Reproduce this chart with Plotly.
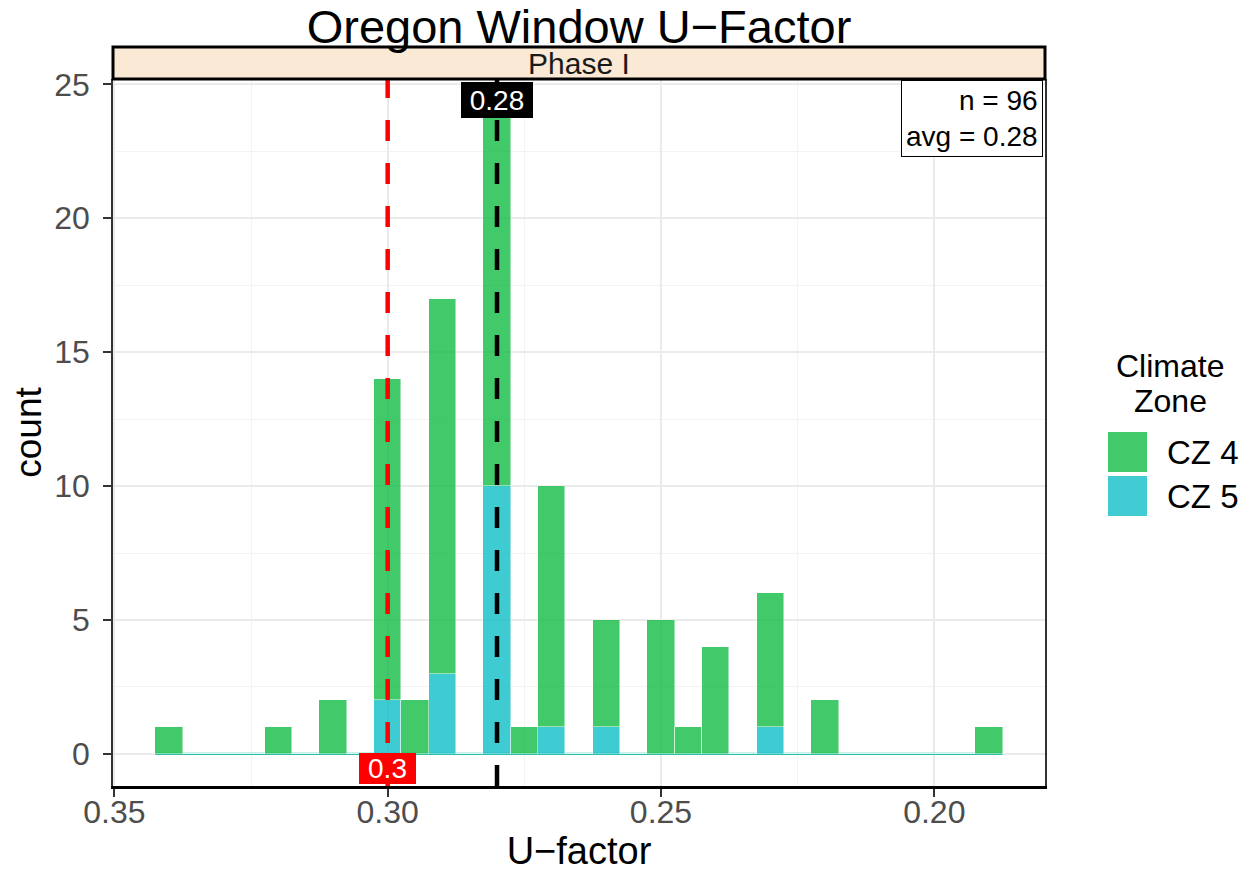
import plotly.graph_objects as go

bins = [0.340, 0.335, 0.330, 0.325, 0.320, 0.315, 0.310, 0.305, 0.300, 0.295,
        0.290, 0.285, 0.280, 0.275, 0.270, 0.265, 0.260, 0.255, 0.250, 0.245,
        0.240, 0.235, 0.230, 0.225, 0.220, 0.215, 0.210, 0.205, 0.200, 0.195, 0.190]
cz4 = [1, 0, 0, 0, 1, 0, 2, 0, 12, 2,
       14, 0, 14, 1, 9, 0, 4, 0, 5, 1,
       4, 0, 5, 0, 2, 0, 0, 0, 0, 0, 1]
cz5 = [0, 0, 0, 0, 0, 0, 0, 0, 2, 0,
       3, 0, 10, 0, 1, 0, 1, 0, 0, 0,
       0, 0, 1, 0, 0, 0, 0, 0, 0, 0, 0]
largura_bin = 0.005
codigo_ref = 0.30      # linha vermelha
media = 0.28           # linha preta
n_total = 96
x_ticks = [0.35, 0.30, 0.25, 0.20]
y_ticks = [0, 5, 10, 15, 20, 25]

verde = "#12BC45"
ciano = "#10BFC7"
fonte = "Liberation Sans"

# a página tem 8px de margem no body, então a figura é um pouco menor
W, H = 1241, 873
ML, MR, MT, MB = 105, 204, 71, 95
PW, PH = W - ML - MR, H - MT - MB   # 932 x 707

fig = go.Figure()

# CZ 5 embaixo, CZ 4 empilhado em cima (como no ggplot)
fig.add_trace(go.Bar(x=bins, y=cz5, width=largura_bin, name="CZ 5",
                     marker=dict(color=ciano, line=dict(color="rgba(255,255,255,0.6)", width=0.8)),
                     opacity=0.8, showlegend=False))
fig.add_trace(go.Bar(x=bins, y=cz4, width=largura_bin, name="CZ 4",
                     marker=dict(color=verde, line=dict(color="rgba(255,255,255,0.6)", width=0.8)),
                     opacity=0.8, showlegend=False))

# linha de contagem zero ao longo de todos os bins
fig.add_shape(type="line", xref="x", yref="y",
              x0=max(bins) + largura_bin / 2, x1=min(bins) - largura_bin / 2, y0=0, y1=0,
              line=dict(color="#2BBFAE", width=2.2), layer="between")

# linhas verticais tracejadas
fig.add_shape(type="line", xref="x", yref="paper", x0=codigo_ref, x1=codigo_ref, y0=0, y1=1,
              line=dict(color="red", width=4.5, dash="21px,22px"))
fig.add_shape(type="line", xref="x", yref="paper", x0=media, x1=media, y0=0, y1=1,
              line=dict(color="black", width=4.5, dash="21px,22px"))

# faixa "Phase I"
fig.add_shape(type="rect", xref="paper", yref="paper", x0=0, x1=1, y0=1.0, y1=1 + 32 / PH,
              fillcolor="#FAE9D5", line=dict(color="black", width=3))
fig.add_annotation(text="Phase I", xref="paper", yref="paper", x=0.5, y=1 + 16 / PH,
                   xanchor="center", yanchor="middle",
                   showarrow=False, font=dict(family=fonte, size=30, color="#1A1A1A"))

# rótulos das linhas
fig.add_annotation(text="%.2f" % media, x=media, xref="x", yref="paper", y=1, yanchor="top",
                   xanchor="center", yshift=-3, showarrow=False, bgcolor="black",
                   bordercolor="black", borderpad=1, width=68, height=32,
                   font=dict(family=fonte, size=28, color="white"))
fig.add_annotation(text="%g" % codigo_ref, x=codigo_ref, xref="x", yref="paper", y=0,
                   yanchor="bottom", xanchor="center", yshift=2, showarrow=False,
                   bgcolor="red", bordercolor="red", borderpad=1, width=53, height=27,
                   font=dict(family=fonte, size=28, color="white"))

# caixa de resumo
fig.add_annotation(text="n = %d<br>avg = %.2f" % (n_total, media), xref="paper", yref="paper",
                   x=1 - 2 / PW, y=1 - 1 / PH, xanchor="right", yanchor="top", align="right",
                   showarrow=False, bgcolor="white", bordercolor="black", borderwidth=1,
                   borderpad=4, font=dict(family=fonte, size=28, color="black"))

# legenda manual (quadrados grandes como no ggplot)
for texto, yc in [("Climate", 366), ("Zone", 401)]:
    fig.add_annotation(text=texto, xref="paper", yref="paper",
                       x=1 + 125 / PW, y=1 - (yc - 79) / PH, xanchor="center", yanchor="middle",
                       showarrow=False, font=dict(family=fonte, size=32, color="black"))
for i, (nome, cor) in enumerate([("CZ 4", verde), ("CZ 5", ciano)]):
    topo = 432 + i * 44 - 79
    fig.add_shape(type="rect", xref="paper", yref="paper",
                  x0=(1108 - 113) / PW, x1=(1147 - 113) / PW,
                  y0=1 - (topo + 40) / PH, y1=1 - topo / PH,
                  fillcolor=cor, opacity=0.8, line=dict(width=0))
    fig.add_annotation(text=nome, xref="paper", yref="paper", x=(1165 - 113) / PW,
                       y=1 - (topo + 20) / PH, xanchor="left", yanchor="middle", showarrow=False,
                       font=dict(family=fonte, size=33, color="black"))

fig.update_layout(
    width=W, height=H,
    barmode="stack", bargap=0,
    margin=dict(l=ML, r=MR, t=MT, b=MB),
    plot_bgcolor="white", paper_bgcolor="white",
    font=dict(family=fonte),
    title=dict(text="Oregon Window U−Factor", x=0.5, xref="paper", xanchor="center",
               y=1 - 19 / H, yref="container", yanchor="middle",
               font=dict(family=fonte, size=47, color="black")),
    xaxis=dict(range=[0.35025, 0.17975], tickvals=x_ticks, tickformat=".2f",
               automargin=False,
               showgrid=True, gridcolor="#EBEBEB", gridwidth=1.5,
               minor=dict(dtick=0.025, tick0=0.2, showgrid=True, gridcolor="#F3F3F3", gridwidth=1),
               showline=True, linecolor="black", linewidth=3,
               ticks="outside", ticklen=8, tickwidth=1.5, tickcolor="#333333",
               ticklabelstandoff=-12,
               tickfont=dict(family=fonte, size=32, color="#4D4D4D"),
               title=dict(text="U−factor", standoff=8, font=dict(family=fonte, size=38, color="black")),
               zeroline=False),
    yaxis=dict(range=[-1.2, 25.2], tickvals=y_ticks,
               automargin=False,
               showgrid=True, gridcolor="#EBEBEB", gridwidth=1.5,
               minor=dict(dtick=2.5, tick0=2.5, showgrid=True, gridcolor="#F3F3F3", gridwidth=1),
               showline=True, linecolor="#333333", linewidth=1.5, mirror=True,
               ticks="outside", ticklen=8, tickwidth=1.5, tickcolor="#333333",
               ticklabelstandoff=7,
               tickfont=dict(family=fonte, size=32, color="#4D4D4D"),
               title=dict(text="count", standoff=18, font=dict(family=fonte, size=37, color="black")),
               zeroline=False),
)

fig.write_html("out.html")
